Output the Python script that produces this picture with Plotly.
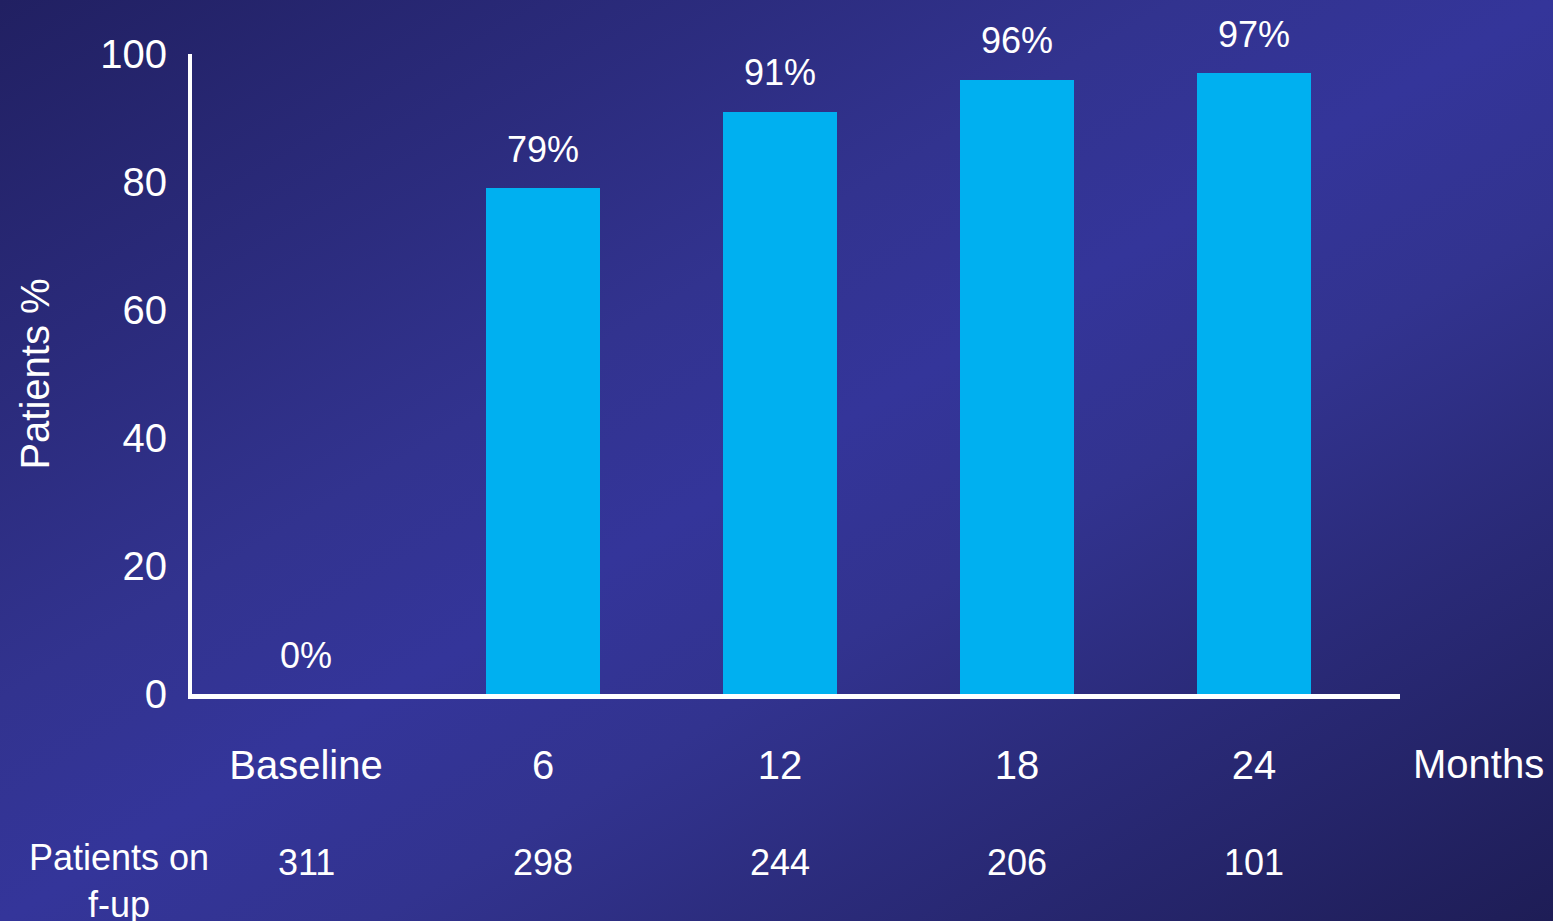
import base64
import plotly.graph_objects as go

# Follow-up categories and share of patients (%)
categories = ["Baseline", "6", "12", "18", "24"]
patients_pct = [0, 79, 91, 96, 97]
pct_labels = ["0%", "79%", "91%", "96%", "97%"]
patients_on_followup = [311, 298, 244, 206, 101]
y_ticks = [0, 20, 40, 60, 80, 100]

W, H = 1553, 921
M_L, M_R, M_T, M_B = 192, 153, 54, 227
PW, PH = W - M_L - M_R, H - M_T - M_B

FONT = "Arial, Liberation Sans, sans-serif"
WHITE = "#ffffff"
BAR = "#00b0f0"

# Diagonal slide-style background gradient
svg = f"""<svg xmlns='http://www.w3.org/2000/svg' width='{W}' height='{H}' viewBox='0 0 {W} {H}' preserveAspectRatio='none'>
<defs><linearGradient id='g' x1='0' y1='0' x2='1' y2='1'>
<stop offset='0' stop-color='#212062'/>
<stop offset='0.38' stop-color='#32338f'/>
<stop offset='0.5' stop-color='#34359a'/>
<stop offset='0.62' stop-color='#32338f'/>
<stop offset='1' stop-color='#1e1d56'/>
</linearGradient></defs>
<rect width='{W}' height='{H}' fill='url(#g)'/></svg>"""
bg_src = "data:image/svg+xml;base64," + base64.b64encode(svg.encode()).decode()

x_idx = list(range(len(categories)))

fig = go.Figure()
fig.add_trace(go.Bar(
    x=x_idx, y=patients_pct, width=0.48,
    marker=dict(color=BAR, line=dict(width=0)),
    hoverinfo="skip", showlegend=False,
))

# Percentage labels above bars
for xi, v, lab in zip(x_idx, patients_pct, pct_labels):
    fig.add_annotation(x=xi, y=v, xref="x", yref="y", text=lab,
                       showarrow=False, xanchor="center", yanchor="middle",
                       yshift=39,
                       font=dict(family=FONT, size=36, color=WHITE))

# Patients on follow-up row
for xi, n in zip(x_idx, patients_on_followup):
    fig.add_annotation(x=xi, y=-0.264, xref="x", yref="paper", text=str(n),
                       showarrow=False, xanchor="center", yanchor="middle",
                       font=dict(family=FONT, size=36, color=WHITE))
fig.add_annotation(x=-(M_L - 119) / PW, y=-0.264, xref="paper", yref="paper",
                   text="Patients on<br>f-up", showarrow=False,
                   xanchor="center", yanchor="top", yshift=28, align="center",
                   font=dict(family=FONT, size=36, color=WHITE))

# Axis unit label
fig.add_annotation(x=(1478 - M_L) / PW, y=-0.11, xref="paper", yref="paper",
                   text="Months", showarrow=False,
                   xanchor="center", yanchor="middle",
                   font=dict(family=FONT, size=40, color=WHITE))

fig.update_layout(
    width=W, height=H,
    margin=dict(l=M_L, r=M_R, t=M_T, b=M_B, pad=0),
    paper_bgcolor="#2c2c85",
    plot_bgcolor="rgba(0,0,0,0)",
    font=dict(family=FONT, color=WHITE),
    bargap=0,
    images=[dict(source=bg_src, xref="paper", yref="paper",
                 x=-M_L / PW, y=1 + M_T / PH, sizex=W / PW, sizey=H / PH,
                 xanchor="left", yanchor="top", sizing="stretch",
                 layer="below")],
    xaxis=dict(
        range=[-0.481, 4.616],
        tickmode="array", tickvals=x_idx, ticktext=categories,
        tickfont=dict(family=FONT, size=40, color=WHITE),
        ticks="", ticklabelstandoff=32,
        showline=True, linecolor=WHITE, linewidth=5,
        showgrid=False, zeroline=False, fixedrange=True,
    ),
    yaxis=dict(
        range=[0, 100],
        tickmode="array", tickvals=y_ticks,
        tickfont=dict(family=FONT, size=40, color=WHITE),
        ticks="", ticklabelstandoff=13,
        showline=True, linecolor=WHITE, linewidth=4,
        showgrid=False, zeroline=False, fixedrange=True,
        title=dict(text="Patients %", standoff=39,
                   font=dict(family=FONT, size=40, color=WHITE)),
    ),
)

fig.write_html("out.html", config={"displayModeBar": False})
